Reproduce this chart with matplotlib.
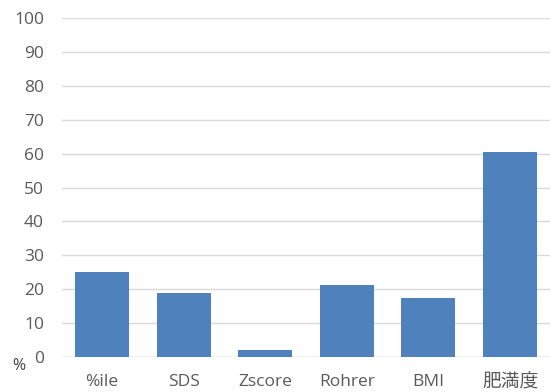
import matplotlib
matplotlib.use("Agg")
import matplotlib.pyplot as plt

plt.rcParams['font.family'] = ['Open Sans', 'Noto Sans CJK JP', 'DejaVu Sans']

categories = ['%ile', 'SDS', 'Zscore', 'Rohrer', 'BMI', '肥満度']
values = [25.0, 18.8, 2.0, 21.1, 17.3, 60.6]
yticks = list(range(0, 101, 10))

fig = plt.figure(figsize=(5.5, 3.92), dpi=100)
ax = fig.add_axes([62/550, 1 - 357/392, 488/550, 339/392])

x = list(range(len(categories)))
ax.bar(x, values, width=0.66, color='#4F81BD', zorder=3)

ax.set_xlim(-0.49, 5.49)
ax.set_ylim(0, 100)
ax.set_yticks(yticks)
ax.set_xticks(x)
ax.set_xticklabels(categories)
ax.grid(axis='y', color='#D9D9D9', linewidth=1, zorder=0)
for s in ax.spines.values():
    s.set_visible(False)
ax.tick_params(axis='both', length=0, colors='#595959', labelsize=12.5)
ax.tick_params(axis='x', pad=12)
ax.tick_params(axis='y', pad=13)
ax.get_xticklabels()[-1].set_fontsize(13.5)
ax.axhline(0, color='#D9D9D9', linewidth=1, zorder=2)

fig.text(19/550, 1 - 366/392, '%', color='#404040', fontsize=11.5, ha='center', va='center')

fig.savefig('out.png', dpi=100)
